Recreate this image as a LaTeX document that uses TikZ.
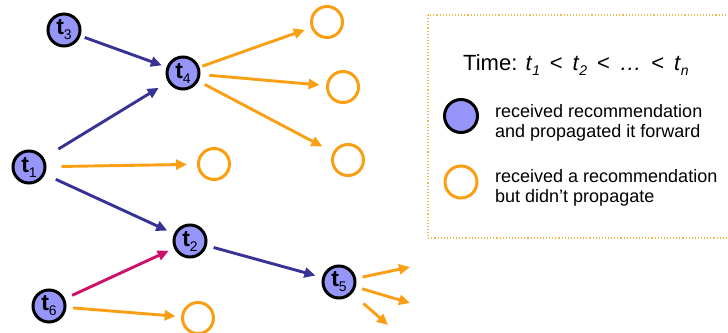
\documentclass[tikz,border=0pt]{standalone}
\usepackage{fontspec}
\setmainfont{Liberation Sans}
\usetikzlibrary{arrows.meta}

\definecolor{nodefill}{RGB}{150,150,250}
\definecolor{flowblue}{RGB}{55,50,150}
\definecolor{flowpink}{RGB}{205,15,105}
\definecolor{quietorange}{RGB}{250,158,20}
\definecolor{boxline}{RGB}{240,185,80}

% node label: bold "t" with a lowered index
\newcommand{\tlab}[1]{{\fontsize{23}{23}\selectfont\bfseries t}\raisebox{-5pt}{\fontsize{14}{14}\selectfont #1}}
% italic time variable with a small lowered index
\newcommand{\tvar}[1]{\textit{t}\raisebox{-5.5pt}{\fontsize{14}{14}\selectfont\textit{#1}}}

\begin{document}
\begin{tikzpicture}[x=1pt,y=-1pt,
  active/.style={circle, draw=black, line width=3pt, fill=nodefill,
    minimum size=32pt, inner sep=0pt},
  passive/.style={circle, draw=quietorange, line width=3pt,
    minimum size=31pt, inner sep=0pt},
  arrowhead/.style={-{Triangle[length=11pt,width=10pt]}},
  flow/.style={draw=flowblue, line width=2.9pt, arrowhead,
    shorten <=6pt, shorten >=6pt},
  pinkflow/.style={flow, draw=flowpink},
  quietflow/.style={flow, draw=quietorange, shorten >=7pt},
  legendtext/.style={anchor=base west, inner sep=0pt,
    font=\fontsize{18}{20}\selectfont},
]
\useasboundingbox (0,0) rectangle (728,332);
\clip (0,0) rectangle (728,332);

% legend frame
\draw[boxline, line width=1.1pt, dotted] (428,15) rectangle (760,238);

% propagating nodes
\node[active] (t3) at (64,30)   {\tlab{3}};
\node[active] (t4) at (183,73)  {\tlab{4}};
\node[active] (t1) at (29,167)  {\tlab{1}};
\node[active] (t2) at (190,241) {\tlab{2}};
\node[active] (t5) at (339,282) {\tlab{5}};
\node[active] (t6) at (49,306)  {\tlab{6}};

% nodes that did not pass it on
\node[passive] (o1) at (327,22)  {};
\node[passive] (o2) at (343,87)  {};
\node[passive] (o3) at (348,160) {};
\node[passive] (o4) at (214,164) {};
\node[passive] (o5) at (198,318) {};

% free ends of the arrows leaving t5
\coordinate (e1) at (410,267);
\coordinate (e2) at (410,303);
\coordinate (e3) at (388,325);

% forwarded recommendations
\draw[flow, shorten <=4.5pt, shorten >=5pt] (t3) -- (t4);
\draw[flow, shorten <=17pt, shorten >=11pt] (t1) -- (t4);
\draw[flow, shorten <=12pt, shorten >=7.5pt] (t1) -- (t2);
\draw[flow, shorten <=7pt, shorten >=7pt] (t2) -- (t5);
\draw[pinkflow, shorten <=8pt, shorten >=6pt] (t6) -- (t2);

% recommendations that stopped
\draw[quietflow, shorten <=15pt, shorten >=10pt] (t1) -- (o4);
\draw[quietflow, shorten <=3pt, shorten >=6.5pt] (t4) -- (o1);
\draw[quietflow, shorten <=9pt, shorten >=6.5pt] (t4) -- (o2);
\draw[quietflow, shorten <=7pt, shorten >=12pt] (t4) -- (o3);
\draw[quietflow, shorten <=6.5pt, shorten >=5.5pt] (t6) -- (o5);
\draw[quietflow, shorten <=6.5pt, shorten >=0pt] (t5) -- (e1);
\draw[quietflow, shorten <=6.5pt, shorten >=0pt] (t5) -- (e2);
\draw[quietflow, shorten <=15pt, shorten >=0pt] (t5) -- (e3);

% legend contents
\node[anchor=base west, inner sep=0pt, font=\fontsize{22}{24}\selectfont] (time) at (463,70)
  {Time: \tvar{1} \,<\, \tvar{2} \,<\, \textit{…} \,<\, \tvar{n}};
\node[active, minimum size=33pt] (keyactive) at (461,116) {};
\node[passive, minimum size=32pt] (keypassive) at (461,182) {};
\node[legendtext] (ka1) at (495,117) {received recommendation};
\node[legendtext] (ka2) at (495,137) {and propagated it forward};
\node[legendtext] (kp1) at (495,182) {received a recommendation};
\node[legendtext] (kp2) at (495,202) {but didn’t propagate};
\end{tikzpicture}
\end{document}
